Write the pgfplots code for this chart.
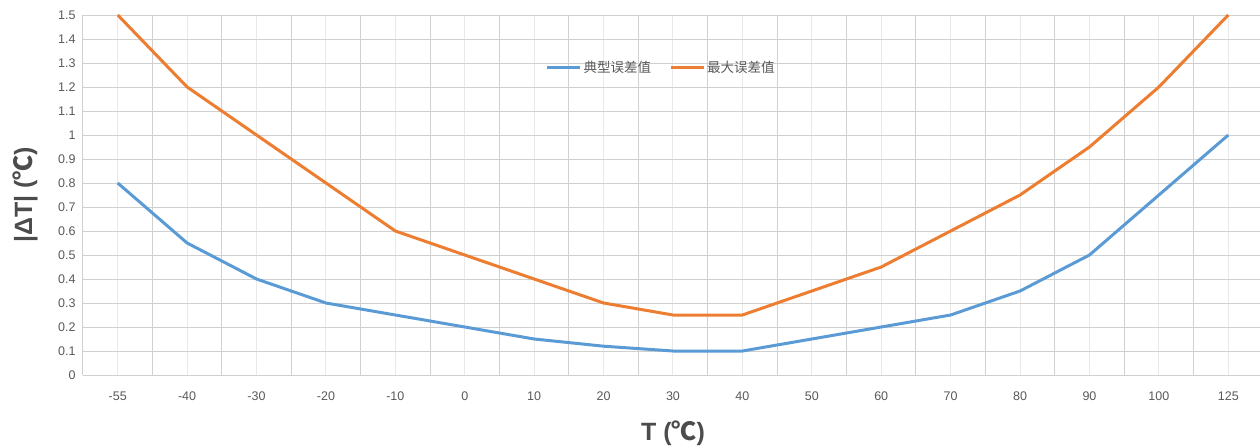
\documentclass[border=0pt]{standalone}
\usepackage{fontspec}
\setmainfont{Liberation Sans}
\newfontfamily\cjk{Noto Sans CJK SC}
\usepackage{pgfplots}
\pgfplotsset{compat=1.18}
\definecolor{sblue}{HTML}{5B9BD5}
\definecolor{sorange}{HTML}{ED7D31}
\definecolor{tickc}{HTML}{595959}
\definecolor{gmaj}{HTML}{D0D0D0}
\definecolor{gmin}{HTML}{E9E9E9}
\begin{document}
\begin{tikzpicture}
\begin{axis}[
  at={(0,0)}, anchor=south west,
  scale only axis, width=1180pt, height=360pt,
  xmin=-0.5, xmax=16.5, ymin=0, ymax=1.5,
  xtick={0,...,16},
  xticklabels={-55,-40,-30,-20,-10,0,10,20,30,40,50,60,70,80,90,100,125},
  minor xtick={-0.5,0.5,...,16.5},
  ytick={0,0.1,0.2,0.3,0.4,0.5,0.6,0.7,0.8,0.9,1,1.1,1.2,1.3,1.4,1.5},
  /pgf/number format/assume math mode=true,
  major tick length=0pt, minor tick length=0pt,
  xmajorgrids, xminorgrids, ymajorgrids,
  major x grid style={gmin, line width=1pt},
  minor x grid style={gmaj, line width=1pt},
  major y grid style={gmaj, line width=1pt},
  axis line style={gmaj, line width=1pt},
  separate axis lines,
  axis x line*=bottom, axis y line*=left,
  tick label style={font=\fontsize{12.5}{14}\selectfont, text=tickc},
  xticklabel style={yshift=-13pt},
  yticklabel style={xshift=-4pt},
  xlabel={\bfseries T ({\cjk ℃})},
  ylabel={\bfseries |ΔT| ({\cjk ℃})},
  label style={font=\fontsize{25}{28}\selectfont, text=tickc!85!black},
  xlabel style={at={(rel axis cs:0.5,0)}, anchor=center, yshift=-58pt},
  ylabel style={at={(rel axis cs:0,0.5)}, anchor=center, yshift=58pt},
  legend style={at={(rel axis cs:0.49,0.853)}, anchor=center, draw=none, fill=none,
    font=\cjk\fontsize{13.5}{15}\selectfont, text=tickc,
    legend columns=2, /tikz/every even column/.append style={column sep=16pt}},
  legend image code/.code={\draw[#1, line width=3pt] (0pt,0pt) -- (33pt,0pt);},
  clip=false,
]
\addplot[sblue, line width=3pt, line join=round] coordinates {
(0,0.8) (1,0.55) (2,0.4) (3,0.3) (4,0.25) (5,0.2) (6,0.15) (7,0.12) (8,0.1)
(9,0.1) (10,0.15) (11,0.2) (12,0.25) (13,0.35) (14,0.5) (15,0.75) (16,1.0)};
\addlegendentry{典型误差值}
\addplot[sorange, line width=3pt, line join=round] coordinates {
(0,1.5) (1,1.2) (2,1.0) (3,0.8) (4,0.6) (5,0.5) (6,0.4) (7,0.3) (8,0.25)
(9,0.25) (10,0.35) (11,0.45) (12,0.6) (13,0.75) (14,0.95) (15,1.2) (16,1.5)};
\addlegendentry{最大误差值}
\end{axis}
\pgfresetboundingbox
\useasboundingbox (-83pt,-70pt) rectangle (1177pt,375pt);
\end{tikzpicture}
\end{document}
